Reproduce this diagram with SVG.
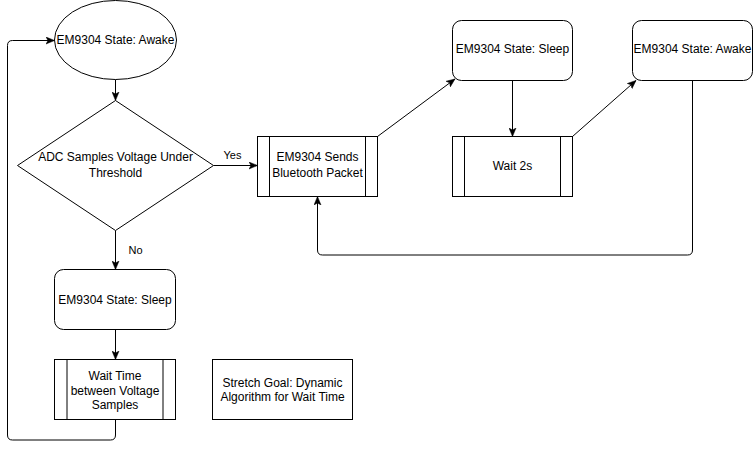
<svg xmlns="http://www.w3.org/2000/svg" width="753" height="449" viewBox="0 0 753 449">
<style>
.s{fill:#fff;stroke:#000;stroke-width:1}
.l{fill:none;stroke:#000;stroke-width:1}
.t{font-family:"Liberation Sans",Arial,sans-serif;font-size:12px;fill:#000;text-anchor:middle}
.e{font-family:"Liberation Sans",Arial,sans-serif;font-size:11px;fill:#000;text-anchor:middle}
</style>
<defs>
<marker id="a" markerUnits="userSpaceOnUse" markerWidth="9" markerHeight="8" viewBox="0 0 9 8" refX="8.5" refY="4" orient="auto">
<path d="M0,0.5 L8.5,4 L0,7.5 L2,4 Z" fill="#000" stroke="#000" stroke-width="0.5"/>
</marker>
</defs>
<rect width="753" height="449" fill="#fff"/>
<g id="connectors">
<path class="l" d="M115.5,79.5 L115.5,100.5" marker-end="url(#a)"/>
<path class="l" d="M213.5,165.5 L257.5,165.5" marker-end="url(#a)"/>
<path class="l" d="M377.5,136.5 L455,79" marker-end="url(#a)"/>
<path class="l" d="M512.5,80.5 L512.5,136.5" marker-end="url(#a)"/>
<path class="l" d="M572.5,136.5 L636,80.5" marker-end="url(#a)"/>
<path class="l" d="M692.5,80.5 L692.5,250 Q692.5,255 687.5,255 L322.5,255 Q317.5,255 317.5,250 L317.5,196.5" marker-end="url(#a)"/>
<path class="l" d="M115.5,230.5 L115.5,269.5" marker-end="url(#a)"/>
<path class="l" d="M115.5,329.5 L115.5,359.5" marker-end="url(#a)"/>
<path class="l" d="M115.5,419.5 L115.5,435 Q115.5,440 110.5,440 L12.5,440 Q7.5,440 7.5,435 L7.5,45.5 Q7.5,40.5 12.5,40.5 L54.5,40.5" marker-end="url(#a)"/>
<text class="e" x="232.5" y="158.5">Yes</text>
<text class="e" x="135.5" y="254">No</text>
</g>
<g id="awake1">
<ellipse class="s" cx="115.5" cy="40" rx="61" ry="39.5"/>
<text class="t" x="115.5" y="44">EM9304 State: Awake</text>
</g>
<g id="decision">
<path class="s" d="M115.5,100.5 L213.5,165.5 L115.5,230.5 L17.5,165.5 Z"/>
<text class="t" x="115.5" y="161">ADC Samples Voltage Under</text>
<text class="t" x="115.5" y="177">Threshold</text>
</g>
<g id="sendPacket">
<rect class="s" x="257.5" y="136.5" width="120" height="60"/>
<path class="l" d="M269.5,136.5 V196.5 M365.5,136.5 V196.5"/>
<text class="t" x="317.5" y="161">EM9304 Sends</text>
<text class="t" x="317.5" y="177">Bluetooth Packet</text>
</g>
<g id="sleep2">
<rect class="s" x="452.5" y="20.5" width="120" height="60" rx="9"/>
<text class="t" x="512.5" y="53">EM9304 State: Sleep</text>
</g>
<g id="wait2s">
<rect class="s" x="452.5" y="136.5" width="120" height="60"/>
<path class="l" d="M464.5,136.5 V196.5 M560.5,136.5 V196.5"/>
<text class="t" x="512.5" y="170">Wait 2s</text>
</g>
<g id="awake2">
<rect class="s" x="632.5" y="20.5" width="120" height="60" rx="9"/>
<text class="t" x="692.5" y="53">EM9304 State: Awake</text>
</g>
<g id="sleep1">
<rect class="s" x="54.5" y="269.5" width="121" height="60" rx="9"/>
<text class="t" x="115" y="304">EM9304 State: Sleep</text>
</g>
<g id="waitTime">
<rect class="s" x="54.5" y="359.5" width="121" height="60"/>
<path class="l" d="M67,359.5 V419.5 M163,359.5 V419.5"/>
<text class="t" x="115" y="380">Wait Time</text>
<text class="t" x="115" y="394.5">between Voltage</text>
<text class="t" x="115" y="409">Samples</text>
</g>
<g id="stretch">
<rect class="s" x="212.5" y="359.5" width="140" height="60"/>
<text class="t" x="282.5" y="387">Stretch Goal: Dynamic</text>
<text class="t" x="282.5" y="401">Algorithm for Wait Time</text>
</g>
</svg>
